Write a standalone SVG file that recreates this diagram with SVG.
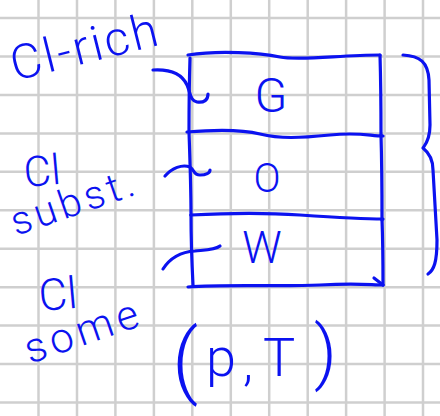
<svg xmlns="http://www.w3.org/2000/svg" width="440" height="416" viewBox="0 0 440 416">
  <defs>
    <style>
      .grid line { stroke: #cfcfcf; stroke-width: 2.5; }
      .ink { fill: none; stroke: #0b12f0; stroke-width: 3.2; stroke-linecap: round; stroke-linejoin: round; }
      .hand { fill: #0b12f0; font-family: Roboto, "Liberation Sans", sans-serif; font-weight: 300; }
    </style>
  </defs>

  <rect width="440" height="416" fill="#ffffff"/>

  <!-- squared paper -->
  <g class="grid">
    <line x1="38.5" y1="0" x2="38.5" y2="416"/>
    <line x1="77" y1="0" x2="77" y2="416"/>
    <line x1="115.4" y1="0" x2="115.4" y2="416"/>
    <line x1="153.9" y1="0" x2="153.9" y2="416"/>
    <line x1="192.3" y1="0" x2="192.3" y2="416"/>
    <line x1="230.8" y1="0" x2="230.8" y2="416"/>
    <line x1="269.2" y1="0" x2="269.2" y2="416"/>
    <line x1="307.7" y1="0" x2="307.7" y2="416"/>
    <line x1="346.1" y1="0" x2="346.1" y2="416"/>
    <line x1="384.6" y1="0" x2="384.6" y2="416"/>
    <line x1="423" y1="0" x2="423" y2="416"/>
    <line x1="0" y1="18" x2="440" y2="18"/>
    <line x1="0" y1="56.5" x2="440" y2="56.5"/>
    <line x1="0" y1="95" x2="440" y2="95"/>
    <line x1="0" y1="133.4" x2="440" y2="133.4"/>
    <line x1="0" y1="171.8" x2="440" y2="171.8"/>
    <line x1="0" y1="210.3" x2="440" y2="210.3"/>
    <line x1="0" y1="248.7" x2="440" y2="248.7"/>
    <line x1="0" y1="287.2" x2="440" y2="287.2"/>
    <line x1="0" y1="325.6" x2="440" y2="325.6"/>
    <line x1="0" y1="364" x2="440" y2="364"/>
    <line x1="0" y1="402.5" x2="440" y2="402.5"/>
  </g>

  <!-- stacked column: gas / oil / water -->
  <g id="column">
    <g id="cell-g">
      <path class="ink" d="M188,55 C220,50 260,53 280,57 S340,55 380,55"/>
      <path class="ink" d="M190,58 C189,90 189,110 189,132"/>
      <path class="ink" d="M380,55 C381,90 381,115 381,135"/>
      <text class="hand" x="271" y="112" font-size="48" text-anchor="middle">G</text>
    </g>
    <g id="cell-o">
      <path class="ink" d="M187,132 C210,130 240,129 260,134 S300,138 330,135 S370,136 383,136"/>
      <path class="ink" d="M189,132 C190,160 191,190 191,215"/>
      <path class="ink" d="M381,135 C382,170 382,200 382,220"/>
      <text class="hand" x="267" y="192" font-size="40" text-anchor="middle">O</text>
    </g>
    <g id="cell-w">
      <path class="ink" d="M191,215 C230,213 270,213 300,215 S360,219 383,219"/>
      <path class="ink" d="M191,215 C191,240 192,265 193,285"/>
      <path class="ink" d="M382,220 C383,245 383,270 383,285"/>
      <path class="ink" d="M188,287 C230,284 280,287 320,285 S370,285 383,285"/>
      <path class="ink" d="M374,278 L383,285"/>
      <text class="hand" x="262" y="263" font-size="44" text-anchor="middle">W</text>
    </g>
  </g>

  <!-- labels -->
  <g id="label-rich">
    <text class="hand" font-size="48" textLength="150" lengthAdjust="spacing" transform="translate(15,81) rotate(-14)">Cl-rich</text>
  </g>
  <g id="label-subst">
    <text class="hand" font-size="42" transform="translate(25,187) rotate(-5)">Cl</text>
    <text class="hand" font-size="40" textLength="128" lengthAdjust="spacing" transform="translate(16,236) rotate(-19)">subst.</text>
  </g>
  <g id="label-some">
    <text class="hand" font-size="44" transform="translate(40,311) rotate(-5)">Cl</text>
    <text class="hand" font-size="42" textLength="118" lengthAdjust="spacing" transform="translate(30,364) rotate(-19)">some</text>
  </g>
  <g id="label-pt">
    <text class="hand" x="172" y="388" font-size="82">(</text>
    <text class="hand" x="206" y="376" font-size="54">p</text>
    <text class="hand" x="243" y="380" font-size="52">,</text>
    <text class="hand" x="263" y="376" font-size="54">T</text>
    <text class="hand" x="314" y="376" font-size="70">)</text>
  </g>

  <!-- braces -->
  <g id="connectors">
    <path class="ink" d="M153,70 C170,69 182,74 187,85 C191,95 190,100 197,102 C204,103 208,100 208,94"/>
    <path class="ink" d="M165,176 C172,168 182,164 190,167 C195,170 193,175 200,175 C206,175 210,173 210,170"/>
    <path class="ink" d="M163,269 C170,258 180,252 195,251 C205,250 215,250 220,246"/>
    <path class="ink" d="M403,55 C420,56 428,62 429,80 L430,125 C430,140 425,145 423,148 C428,152 433,158 433,170 L437,240 C437,262 434,270 428,274"/>
  </g>
</svg>
